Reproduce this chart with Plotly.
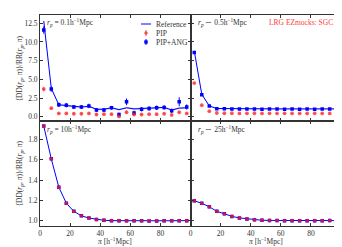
import plotly.graph_objects as go
from plotly.subplots import make_subplots

pi_bins = [2.5, 7.5, 12.5, 17.5, 22.5, 27.5, 32.5, 37.5, 42.5, 47.5,
           52.5, 57.5, 62.5, 67.5, 72.5, 77.5, 82.5, 87.5, 92.5, 97.5]

# rp = 0.1
ref_01 = [12.8, 3.8, 1.6, 1.5, 1.3, 1.3, 1.4, 1.0, 1.0, 1.2, 0.95, 1.2, 1.05, 1.1, 1.1, 1.15, 1.25, 0.9, 1.15, 1.2]
ref_err_01 = [0.2, 0.15, 0.12, 0.12, 0.12, 0.12, 0.12, 0.12, 0.12, 0.12, 0.12, 0.12, 0.12, 0.12, 0.12, 0.12, 0.12, 0.12, 0.12, 0.12]
pipang_01 = [11.6, 3.7, 1.6, 1.55, 1.3, 1.3, 1.45, 0.9, 0.9, 1.2, 0.3, 2.0, 0.5, 1.0, 1.1, 1.2, 1.25, 0.8, 2.0, 1.3]
pipang_err_01 = [0.5, 0.35, 0.3, 0.3, 0.25, 0.25, 0.3, 0.25, 0.25, 0.25, 0.25, 0.45, 0.3, 0.3, 0.3, 0.3, 0.3, 0.3, 0.6, 0.35]
pip_01 = [3.7, 1.15, 0.45, 0.45, 0.4, 0.4, 0.45, 0.3, 0.35, 0.35, 0.05, 0.6, 0.3, 0.3, 0.35, 0.35, 0.4, 0.25, 0.6, 0.45]
pip_err_01 = [0.3, 0.12, 0.08, 0.08, 0.08, 0.08, 0.08, 0.08, 0.08, 0.08, 0.1, 0.1, 0.08, 0.08, 0.08, 0.08, 0.08, 0.08, 0.1, 0.08]

# rp ~ 0.5
ref_05 = [8.8, 3.0, 1.45, 1.1, 1.1, 1.08, 1.06, 1.06, 1.05, 1.05, 1.05, 1.05, 1.05, 1.05, 1.05, 1.05, 1.05, 1.05, 1.05, 1.05]
ref_err_05 = [0.15, 0.1, 0.08, 0.08, 0.08, 0.08, 0.08, 0.08, 0.08, 0.08, 0.08, 0.08, 0.08, 0.08, 0.08, 0.08, 0.08, 0.08, 0.08, 0.08]
pipang_05 = [8.6, 2.95, 1.45, 1.07, 1.07, 1.05, 1.03, 1.04, 1.05, 1.02, 1.03, 1.04, 1.02, 1.03, 1.02, 1.04, 1.02, 1.03, 1.04, 1.02]
pipang_err_05 = [0.1, 0.06, 0.05, 0.05, 0.05, 0.05, 0.05, 0.05, 0.05, 0.05, 0.05, 0.05, 0.05, 0.05, 0.05, 0.05, 0.05, 0.05, 0.05, 0.05]
pip_05 = [4.5, 1.55, 0.75, 0.5, 0.47, 0.47, 0.45, 0.46, 0.47, 0.45, 0.46, 0.45, 0.46, 0.45, 0.44, 0.45, 0.46, 0.45, 0.44, 0.45]
pip_err_05 = [0.08, 0.05, 0.04, 0.04, 0.04, 0.04, 0.04, 0.04, 0.04, 0.04, 0.04, 0.04, 0.04, 0.04, 0.04, 0.04, 0.04, 0.04, 0.04, 0.04]

# rp = 10
ref_10 = [1.935, 1.61, 1.33, 1.17, 1.09, 1.046, 1.024, 1.01, 1.002, 0.998, 0.997, 0.997, 0.996, 0.996, 0.995, 0.995, 0.996, 0.997, 0.998, 0.998]
pipang_10 = [1.935, 1.61, 1.33, 1.17, 1.09, 1.046, 1.024, 1.01, 1.002, 0.998, 0.997, 0.997, 0.996, 0.996, 0.995, 0.995, 0.996, 0.997, 0.998, 0.998]
pip_10 = [1.935, 1.61, 1.33, 1.17, 1.09, 1.046, 1.024, 1.01, 1.002, 0.998, 0.997, 0.997, 0.996, 0.996, 0.995, 0.995, 0.996, 0.997, 0.998, 0.998]

# rp ~ 25
ref_25 = [1.195, 1.17, 1.135, 1.09, 1.066, 1.04, 1.025, 1.015, 1.008, 1.002, 1.0, 0.999, 0.998, 0.998, 0.997, 0.997, 0.998, 0.998, 0.999, 0.999]
pipang_25 = [1.195, 1.17, 1.135, 1.09, 1.066, 1.04, 1.025, 1.015, 1.008, 1.002, 1.0, 0.999, 0.998, 0.998, 0.997, 0.997, 0.998, 0.998, 0.999, 0.999]
pip_25 = [1.195, 1.17, 1.135, 1.09, 1.066, 1.04, 1.025, 1.015, 1.008, 1.002, 1.0, 0.999, 0.998, 0.998, 0.997, 0.997, 0.998, 0.998, 0.999, 0.999]

x_ticks = [0, 20, 40, 60, 80]
top_y_ticks = [0.0, 2.5, 5.0, 7.5, 10.0, 12.5]
top_y_ticktext = ["0.0", "2.5", "5.0", "7.5", "10.0", "12.5"]
bot_y_ticks = [1.0, 1.2, 1.4, 1.6, 1.8]
bot_y_ticktext = ["1.0", "1.2", "1.4", "1.6", "1.8"]

BLUE = "#0000ff"
RED = "rgba(255,30,30,0.75)"
BAND = "rgba(60,90,255,0.3)"
FONT = "Liberation Serif"

W, H = 342, 247
ML, MR, MT, MB = 32, 9, 7, 29
PW, PH = W - ML - MR, H - MT - MB

fig = make_subplots(rows=2, cols=2, horizontal_spacing=0, vertical_spacing=0)


def add_panel(row, col, ref, ref_err, pipang, pipang_err, pip, pip_err):
    if ref_err is not None:
        lo = [r - e for r, e in zip(ref, ref_err)]
        hi = [r + e for r, e in zip(ref, ref_err)]
        fig.add_trace(go.Scatter(x=pi_bins, y=lo, mode="lines", line=dict(width=0, color=BAND),
                                 showlegend=False, hoverinfo="skip"), row=row, col=col)
        fig.add_trace(go.Scatter(x=pi_bins, y=hi, mode="lines", line=dict(width=0, color=BAND),
                                 fill="tonexty", fillcolor=BAND, showlegend=False, hoverinfo="skip"),
                      row=row, col=col)
    fig.add_trace(go.Scatter(x=pi_bins, y=ref, mode="lines", line=dict(color=BLUE, width=1),
                             showlegend=False), row=row, col=col)
    fig.add_trace(go.Scatter(x=pi_bins, y=pipang, mode="markers",
                             marker=dict(symbol="square", size=3.5, color=BLUE),
                             error_y=dict(type="data", array=pipang_err, visible=pipang_err is not None,
                                          color=BLUE, thickness=1, width=0),
                             showlegend=False), row=row, col=col)
    fig.add_trace(go.Scatter(x=pi_bins, y=pip, mode="markers",
                             marker=dict(symbol="circle", size=3.8, color=RED),
                             error_y=dict(type="data", array=pip_err, visible=pip_err is not None,
                                          color=RED, thickness=1, width=0),
                             showlegend=False), row=row, col=col)


add_panel(1, 1, ref_01, ref_err_01, pipang_01, pipang_err_01, pip_01, pip_err_01)
add_panel(1, 2, ref_05, ref_err_05, pipang_05, pipang_err_05, pip_05, pip_err_05)
add_panel(2, 1, ref_10, None, pipang_10, None, pip_10, None)
add_panel(2, 2, ref_25, None, pipang_25, None, pip_25, None)

axis_common = dict(showgrid=False, zeroline=False, showline=True, linecolor="#333", linewidth=1,
                   mirror="ticks", ticks="inside", ticklen=3, tickcolor="#333", tickwidth=0.8,
                   tickfont=dict(family=FONT, size=7.5, color="#333"))

for r in (1, 2):
    for c in (1, 2):
        fig.update_xaxes(range=[0, 100], tickvals=x_ticks, showticklabels=(r == 2),
                         row=r, col=c, **axis_common)
        if r == 1:
            fig.update_yaxes(range=[-0.5, 13.6], tickvals=top_y_ticks, ticktext=top_y_ticktext,
                             showticklabels=(c == 1), row=r, col=c, **axis_common)
        else:
            fig.update_yaxes(range=[0.945, 1.99], tickvals=bot_y_ticks, ticktext=bot_y_ticktext,
                             showticklabels=(c == 1), row=r, col=c, **axis_common)


def px(x, y):
    return (x - ML) / PW, 1 - (y - MT) / PH


annotations = []


def text(x, y, s, size=7.5, color="#333", xanchor="left", angle=0):
    X, Y = px(x, y)
    annotations.append(dict(x=X, y=Y, xref="paper", yref="paper", text=s, showarrow=False,
                            xanchor=xanchor, yanchor="middle", textangle=angle,
                            font=dict(family=FONT, size=size, color=color)))


text(37, 15, "<i>r</i><sub><i>p</i></sub> = 0.1h<sup>−1</sup>Mpc")
text(188, 15, "<i>r</i><sub><i>p</i></sub> ∼ 0.5h<sup>−1</sup>Mpc")
text(327, 15, "LRG EZmocks: SGC", color="#ff3b3b", xanchor="right")
text(37, 121, "<i>r</i><sub><i>p</i></sub> = 10h<sup>−1</sup>Mpc")
text(188, 121, "<i>r</i><sub><i>p</i></sub> ∼ 25h<sup>−1</sup>Mpc")
text(107, 233, "<i>π</i> [h<sup>−1</sup>Mpc]", xanchor="center")
text(258, 233, "<i>π</i> [h<sup>−1</sup>Mpc]", xanchor="center")
text(12, 60, "⟨DD(<i>r</i><sub><i>p</i></sub>, <i>π</i>)⟩/RR(<i>r</i><sub><i>p</i></sub>, <i>π</i>)", xanchor="center", angle=-90)
text(12, 165, "⟨DD(<i>r</i><sub><i>p</i></sub>, <i>π</i>)⟩/RR(<i>r</i><sub><i>p</i></sub>, <i>π</i>)", xanchor="center", angle=-90)

# legend
text(146, 16, "Reference")
text(146, 25, "PIP")
text(146, 34, "PIP+ANG")
shapes = []
x0, y0 = px(133, 16)
x1, _ = px(143, 16)
shapes.append(dict(type="line", xref="paper", yref="paper", x0=x0, x1=x1, y0=y0, y1=y0,
                   line=dict(color=BLUE, width=1)))
for yy, col in ((25, RED), (34, BLUE)):
    cx, cy = px(138, yy)
    ya, yb = px(138, yy - 3)[1], px(138, yy + 3)[1]
    shapes.append(dict(type="line", xref="paper", yref="paper", x0=cx, x1=cx, y0=ya, y1=yb,
                       line=dict(color=col, width=1)))
    dx = 1.7 / PW
    dy = 1.7 / PH
    shapes.append(dict(type="rect" if col == BLUE else "circle", xref="paper", yref="paper",
                       x0=cx - dx, x1=cx + dx, y0=cy - dy, y1=cy + dy,
                       fillcolor=col, line=dict(width=0)))

fig.update_layout(width=W, height=H, margin=dict(l=ML, r=MR, t=MT, b=MB),
                  plot_bgcolor="white", paper_bgcolor="white", showlegend=False,
                  annotations=annotations, shapes=shapes)

fig.write_html("out.html")
